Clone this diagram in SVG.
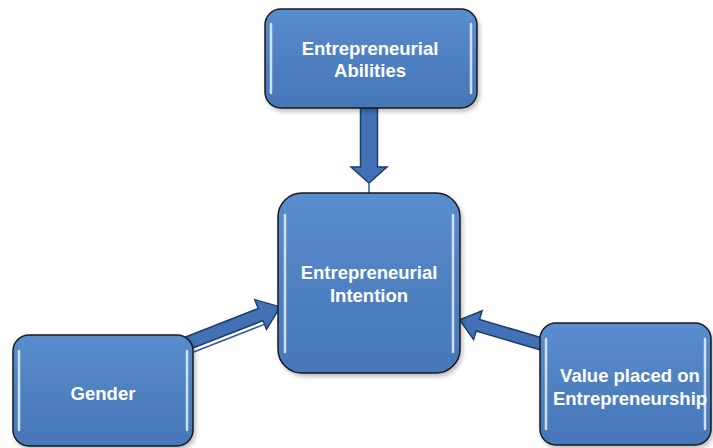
<svg xmlns="http://www.w3.org/2000/svg" width="713" height="448" viewBox="0 0 713 448">
  <defs>
    <linearGradient id="boxFill" x1="0" y1="0" x2="0" y2="1">
      <stop offset="0" stop-color="#5a8dcf"/>
      <stop offset="0.5" stop-color="#4f81c1"/>
      <stop offset="1" stop-color="#4677b9"/>
    </linearGradient>
    <filter id="shadow" x="-10%" y="-10%" width="125%" height="125%">
      <feDropShadow dx="2" dy="3" stdDeviation="2" flood-color="#000" flood-opacity="0.25"/>
    </filter>
  </defs>
  <style>
    .box { fill: url(#boxFill); stroke: #1a1a1a; stroke-width: 1.5; filter: url(#shadow); }
    .hl { stroke: #e6f0fb; stroke-width: 2.5; stroke-linecap: round; fill: none; opacity: 0.85; }
    .lbl { font-family: "Liberation Sans", Arial, sans-serif; font-weight: bold; font-size: 18.5px; fill: #ffffff; text-anchor: middle; }
    .arrow { fill: #4272b5; stroke: #1d3d6e; stroke-width: 1.5; stroke-linejoin: miter; }
    .thin { stroke: #2f5a96; stroke-width: 1.5; fill: none; }
  </style>
  <rect width="713" height="448" fill="#ffffff"/>

  <g id="connectors">
    <!-- Entrepreneurial Abilities -> Intention -->
    <g transform="translate(369,108) rotate(90)">
      <polygon class="arrow" points="0,-8.5 59,-8.5 59,-18 75,0 59,18 59,8.5 0,8.5"/>
    </g>
    <line class="thin" x1="369" y1="182" x2="369" y2="193"/>
    <!-- Gender -> Intention -->
    <g transform="translate(188,343) rotate(-21.4)">
      <polygon class="arrow" points="0,-6.5 78,-6.5 78,-16 99,0 78,16 78,6.5 0,6.5"/>
      <line class="thin" x1="2" y1="10.5" x2="80" y2="10.5"/>
    </g>
    <!-- Value placed on Entrepreneurship -> Intention -->
    <g transform="translate(545,345) rotate(-163.6)">
      <polygon class="arrow" points="0,-6 70,-6 70,-15 89,0 70,15 70,6 0,6"/>
    </g>
  </g>

  <g id="node-abilities">
    <rect class="box" x="265" y="9" width="212" height="99" rx="16" ry="16"/>
    <line class="hl" x1="271" y1="24" x2="271" y2="93"/>
    <line class="hl" x1="471" y1="24" x2="471" y2="93"/>
    <text class="lbl" x="370" y="55">Entrepreneurial</text>
    <text class="lbl" x="370" y="77">Abilities</text>
  </g>

  <g id="node-intention">
    <rect class="box" x="278" y="193" width="182" height="180" rx="24" ry="24"/>
    <line class="hl" x1="285" y1="215" x2="285" y2="352"/>
    <line class="hl" x1="453" y1="215" x2="453" y2="352"/>
    <text class="lbl" x="369" y="279">Entrepreneurial</text>
    <text class="lbl" x="369" y="302">Intention</text>
  </g>

  <g id="node-gender">
    <rect class="box" x="13" y="335" width="180" height="111" rx="16" ry="16"/>
    <line class="hl" x1="19" y1="351" x2="19" y2="430"/>
    <line class="hl" x1="187" y1="351" x2="187" y2="430"/>
    <text class="lbl" x="103" y="400">Gender</text>
  </g>

  <g id="node-value">
    <rect class="box" x="540" y="323" width="171" height="122" rx="16" ry="16"/>
    <line class="hl" x1="546" y1="339" x2="546" y2="429"/>
    <line class="hl" x1="705" y1="339" x2="705" y2="429"/>
    <text class="lbl" x="630" y="382">Value placed on</text>
    <text class="lbl" x="630" y="405">Entrepreneurship</text>
  </g>
</svg>
